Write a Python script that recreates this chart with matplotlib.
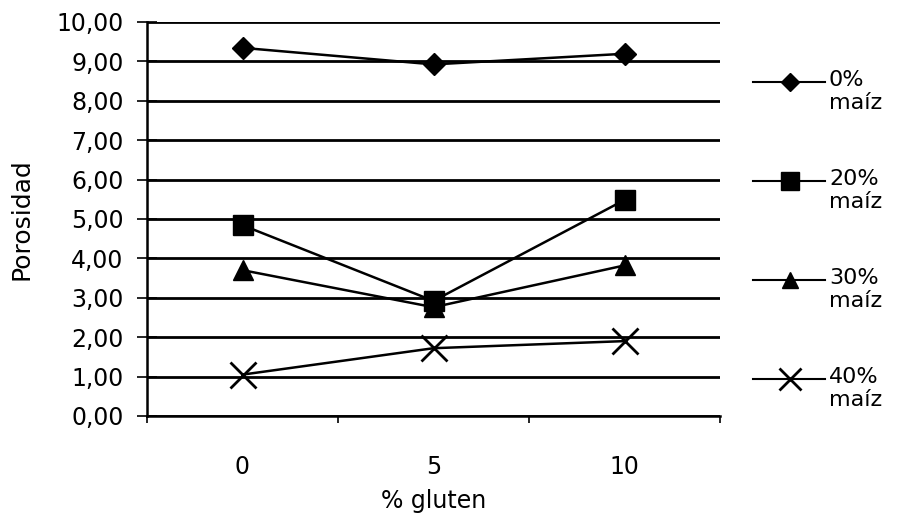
import matplotlib
matplotlib.use('Agg')
from matplotlib import pyplot as plt
from matplotlib.lines import Line2D

# % gluten levels (categorical x axis)
gluten = ['0', '5', '10']

# porosity per corn flour level
maiz_0 = [9.34, 8.92, 9.19]
maiz_20 = [4.84, 2.92, 5.48]
maiz_30 = [3.70, 2.76, 3.82]
maiz_40 = [1.05, 1.72, 1.90]

pct = ['0%', '20%', '30%', '40%']
markers = ['D', 's', '^', 'x']
msizes = [11, 15, 14, 19]

plt.rcParams['font.family'] = 'DejaVu Sans'

W, H = 902, 520
fig = plt.figure(figsize=(W / 100, H / 100), dpi=100)
ax = fig.add_axes([147 / W, 0.2, 573 / W, 0.758])

x = list(range(len(gluten)))
series = [maiz_0, maiz_20, maiz_30, maiz_40]
for vals, mk, ms in zip(series, markers, msizes):
    ax.plot(x, vals, color='black', linewidth=1.8, marker=mk, markersize=ms,
            markeredgewidth=2 if mk == 'x' else 1, zorder=3)

ax.set_xlim(-0.5, 2.5)
ax.set_ylim(0, 10)
ax.set_yticks(range(0, 11))
ax.set_yticklabels(['{:.2f}'.format(v).replace('.', ',') for v in range(0, 11)])
ax.set_xticks([-0.5, 0.5, 1.5, 2.5])
ax.set_xticklabels([])
ax.set_xticks(x, minor=True)
ax.set_xticklabels(gluten, minor=True)
ax.tick_params(axis='x', which='minor', length=0, pad=28, labelsize=17)
ax.tick_params(axis='x', which='major', direction='out', length=5, width=1.2)
ax.tick_params(axis='y', direction='inout', length=14, width=1.2, pad=10, labelsize=17)

ax.yaxis.grid(True, color='black', linewidth=2)
ax.set_axisbelow(True)
for s in ['top', 'right']:
    ax.spines[s].set_visible(False)
ax.spines['left'].set_linewidth(1.8)
ax.spines['bottom'].set_linewidth(1.8)

ax.set_xlabel('% gluten', fontsize=17, labelpad=7)
ax.set_ylabel('Porosidad', fontsize=18, labelpad=16)

# legend keys: line + marker, label starts beside the key
for i, (p, mk, ms) in enumerate(zip(pct, markers, msizes)):
    yk = 1 - (82 + i * 99) / H
    fig.add_artist(Line2D([753 / W, 825 / W], [yk, yk], transform=fig.transFigure,
                          color='black', linewidth=1.5))
    fig.add_artist(Line2D([790 / W], [yk], transform=fig.transFigure, color='black',
                          marker=mk, markersize=ms * 0.85,
                          markeredgewidth=2 if mk == 'x' else 1))
    fig.text(829 / W, yk + 2 / H, p, fontsize=16, va='center', ha='left')
    fig.text(829 / W, yk - 21 / H, 'maíz', fontsize=16, va='center', ha='left')

plt.savefig('out.png', dpi=100)
